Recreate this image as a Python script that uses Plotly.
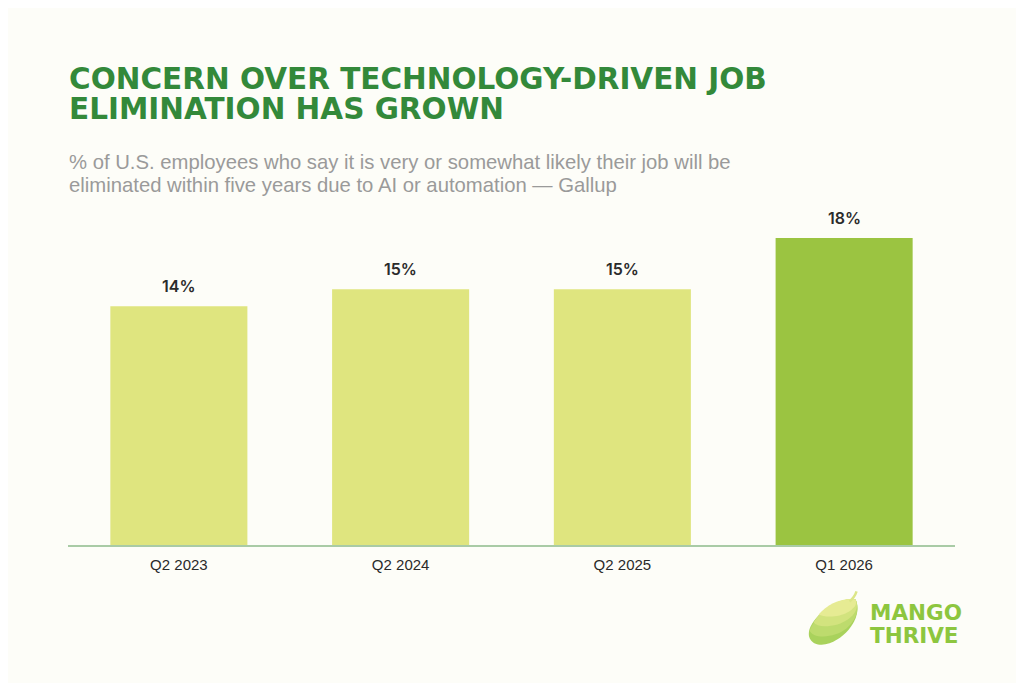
import plotly.graph_objects as go

# Gallup survey values
periods = ["Q2 2023", "Q2 2024", "Q2 2025", "Q1 2026"]
shares = [14, 15, 15, 18]
labels = ["14%", "15%", "15%", "18%"]
bar_colors = ["#dfe57f", "#dfe57f", "#dfe57f", "#9bc441"]

title_lines = ["CONCERN OVER TECHNOLOGY-DRIVEN JOB", "ELIMINATION HAS GROWN"]
subtitle_lines = [
    "% of U.S. employees who say it is very or somewhat likely their job will be",
    "eliminated within five years due to AI or automation \u2014 Gallup",
]
logo_lines = ["MANGO", "THRIVE"]

BG = "#fdfdf8"
W, H = 1024, 683
OFF = 8  # page body margin of the browser

# plot area in screen pixels
PL, PR, PT, PB = 68, 955.5, 200, 545.5
ml = PL - OFF
mr = W - (PR - OFF)
mt = PT - OFF
mb = H - (PB - OFF)
pw = PR - PL
ph = PB - PT


def paper(sx, sy):
    return (sx - PL) / pw, (PB - sy) / ph


fig = go.Figure()

fig.add_trace(go.Bar(
    x=periods,
    y=shares,
    marker=dict(color=bar_colors, line=dict(width=0)),
    hoverinfo="skip",
))

annotations = []
# value labels above bars
for p, v, t in zip(periods, shares, labels):
    annotations.append(dict(
        x=p, y=v, xref="x", yref="y", text=t, showarrow=False,
        yanchor="bottom", yshift=8,
        font=dict(family="Inter", size=16, color="#2b2b2b", weight=600),
    ))

# title
for i, line in enumerate(title_lines):
    x, y = paper(67, 78.5 + 30 * i)
    annotations.append(dict(
        text=line, x=x, y=y, xref="paper", yref="paper",
        xanchor="left", yanchor="middle", showarrow=False,
        font=dict(family="DejaVu Sans", size=29.5, color="#33893a", weight="bold"),
    ))

# subtitle
for i, line in enumerate(subtitle_lines):
    x, y = paper(67, 161.5 + 23 * i)
    annotations.append(dict(
        text=line, x=x, y=y, xref="paper", yref="paper",
        xanchor="left", yanchor="middle", showarrow=False,
        font=dict(family="Liberation Sans", size=20.3, color="#9a9a9a"),
    ))

# logo text
for i, line in enumerate(logo_lines):
    x, y = paper(868, 613 + 23.5 * i)
    annotations.append(dict(
        text=line, x=x, y=y, xref="paper", yref="paper",
        xanchor="left", yanchor="middle", showarrow=False,
        font=dict(family="DejaVu Sans", size=21.5, color="#8dc63f", weight="bold"),
    ))


def svg_path(cmds):
    out = []
    for c, pts in cmds:
        coords = []
        for sx, sy in pts:
            x, y = paper(sx, sy)
            coords.append(f"{x:.5f},{y:.5f}")
        out.append(c + " ".join(coords))
    return " ".join(out) + " Z"


tip = (856, 600)
mango_layers = [
    ([("M", [tip]), ("C", [(863, 615), (850, 636), (830, 644)]),
      ("C", [(815, 649), (805, 640), (811, 627)]), ("C", [(819, 611), (840, 598), tip])], "#a9d25c"),
    ([("M", [tip]), ("C", [(862, 612), (853, 629), (836, 635)]),
      ("C", [(824, 639), (812, 637), (810, 631)]), ("C", [(818, 612), (840, 598), tip])], "#bddb6d"),
    ([("M", [tip]), ("C", [(861, 609), (853, 620), (838, 625)]),
      ("C", [(826, 628), (817, 627), (814, 623)]), ("C", [(822, 609), (840, 598), tip])], "#d2e37e"),
    ([("M", [tip]), ("C", [(859, 606), (851, 613), (840, 616)]),
      ("C", [(831, 618), (823, 617), (819, 615)]), ("C", [(828, 605), (842, 598), tip])], "#e6eb93"),
]
shapes = []
for cmds, col in mango_layers:
    shapes.append(dict(type="path", path=svg_path(cmds), xref="paper", yref="paper",
                       fillcolor=col, line=dict(width=0), layer="above"))
shapes.append(dict(type="path",
                   path=svg_path([("M", [(850, 602)]), ("Q", [(855, 598), (857, 592)])]).replace(" Z", ""),
                   xref="paper", yref="paper", line=dict(color="#dce687", width=2.5)))

fig.update_layout(
    width=W,
    height=H,
    paper_bgcolor=BG,
    plot_bgcolor=BG,
    margin=dict(l=ml, r=mr, t=mt, b=mb, pad=0),
    bargap=0.382,
    showlegend=False,
    font=dict(family="Liberation Sans", color="#222222"),
    xaxis=dict(
        showgrid=False,
        showline=True,
        linecolor="#a9cba6",
        linewidth=2,
        ticks="",
        ticklabelstandoff=5,
        tickfont=dict(family="Liberation Sans", size=15, color="#2a2a2a"),
        fixedrange=True,
    ),
    yaxis=dict(
        range=[0, ph / 17.08],
        visible=False,
        showgrid=False,
        zeroline=False,
        fixedrange=True,
    ),
    annotations=annotations,
    shapes=shapes,
)

fig.write_html("out.html")
